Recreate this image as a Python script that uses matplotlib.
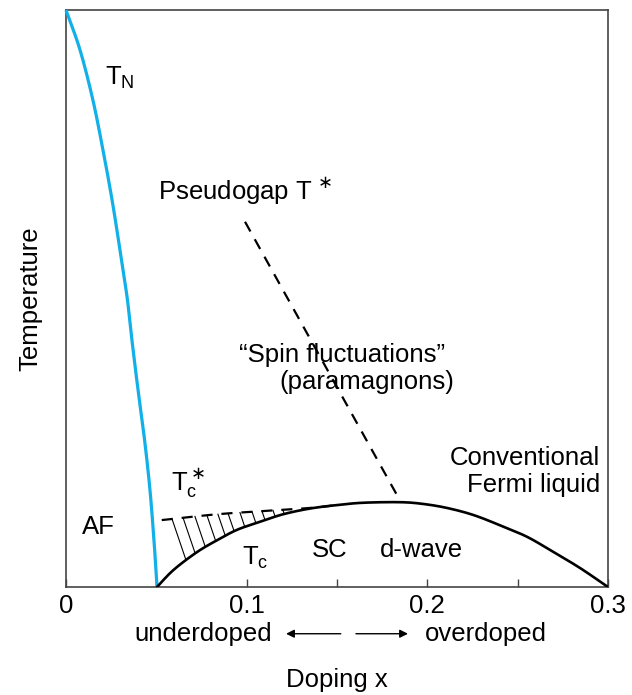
import numpy as np
import matplotlib
matplotlib.use("Agg")
import matplotlib.pyplot as plt

plt.rcParams['font.family'] = ['Liberation Sans', 'DejaVu Sans']

# Neel temperature line (AF boundary)
tn_x = [0.0, 0.00775, 0.0149, 0.0205, 0.0255, 0.0299, 0.0338, 0.0365, 0.0399, 0.0435, 0.0465, 0.0487, 0.0504]
tn_t = [1.0, 0.931, 0.844, 0.757, 0.671, 0.584, 0.503, 0.428, 0.341, 0.255, 0.168, 0.081, 0.0]

# superconducting dome Tc
tc_x = [0.0504, 0.0576, 0.0648, 0.0742, 0.0836, 0.0946, 0.1074, 0.1201, 0.1351, 0.1500, 0.1644,
        0.1849, 0.1976, 0.2109, 0.2253, 0.2402, 0.2552, 0.2696, 0.2845, 0.3]
tc_t = [0.0, 0.024, 0.043, 0.064, 0.081, 0.099, 0.113, 0.126, 0.136, 0.142, 0.146,
        0.147, 0.144, 0.137, 0.125, 0.107, 0.087, 0.061, 0.033, 0.0]

# Tc* (dashed, fluctuation region)
tcs_x = [0.053, 0.0836, 0.111, 0.135, 0.150]
tcs_t = [0.116, 0.126, 0.132, 0.137, 0.142]

# pseudogap T* (dashed)
pg_x = [0.0991, 0.1854]
pg_t = [0.633, 0.147]

# hatch line tops
hatch_x = [0.0587, 0.0648, 0.0714, 0.0780, 0.0841, 0.0897, 0.0963, 0.1030, 0.1085, 0.1146, 0.1200]

blue = '#12b0e8'


def smooth(px, py, n=20):
    # catmull-rom through the read points
    p = np.column_stack([px, py])
    p = np.vstack([2 * p[0] - p[1], p, 2 * p[-1] - p[-2]])
    out = []
    t = np.linspace(0, 1, n, endpoint=False)[:, None]
    for i in range(1, len(p) - 2):
        p0, p1, p2, p3 = p[i - 1], p[i], p[i + 1], p[i + 2]
        seg = 0.5 * ((2 * p1) + (-p0 + p2) * t + (2 * p0 - 5 * p1 + 4 * p2 - p3) * t ** 2
                     + (-p0 + 3 * p1 - 3 * p2 + p3) * t ** 3)
        out.append(seg)
    out.append(p[-2][None, :])
    out = np.vstack(out)
    return out[:, 0], out[:, 1]


fig = plt.figure(figsize=(6.32, 6.95), dpi=100)
ax = fig.add_axes([0.1044, 0.1554, 0.8576, 0.8302])

sx, sy = smooth(tn_x, tn_t)
ax.plot(sx, sy, color=blue, lw=2.3, solid_capstyle='butt', clip_on=False, zorder=4)
cx, cy = smooth(tcs_x, tcs_t)
ax.plot(cx, cy, color='black', lw=1.6, dashes=(5, 4), zorder=3)
dx, dy = smooth(tc_x, tc_t)
ax.plot(dx, dy, color='black', lw=1.9, zorder=5)
ax.plot(pg_x, pg_t, color='black', lw=1.6, dashes=(5, 4), zorder=3)

# hatching between Tc* and Tc, slanted lines
slope = 0.1086
xs = np.linspace(0.05, 0.2, 3000)
for hx in hatch_x:
    top = np.interp(hx, cx, cy)
    line_x = hx + slope * (top - np.interp(xs, dx, dy))
    bx = xs[np.argmin(np.abs(line_x - xs))]
    bt = np.interp(bx, dx, dy)
    ax.plot([hx, bx], [top, bt], color='black', lw=0.8, zorder=2)

fs = 18.5
ax.text(0.030, 0.882, r'T$_\mathregular{N}$', fontsize=fs, ha='center', va='center')
ax.text(0.051, 0.685, r'Pseudogap T$^{\,\ast}$', fontsize=fs, ha='left', va='center')
ax.text(0.1528, 0.402, '\u201cSpin fluctuations\u201d', fontsize=fs, ha='center', va='center')
ax.text(0.1666, 0.355, '(paramagnons)', fontsize=fs, ha='center', va='center')
ax.text(0.2955, 0.20, 'Conventional\nFermi liquid', fontsize=fs, ha='right', va='center',
        multialignment='right', linespacing=1.2)
ax.text(0.0675, 0.18, r'T$_\mathregular{c}^\ast$', fontsize=fs, ha='center', va='center')
ax.text(0.0177, 0.104, 'AF', fontsize=fs, ha='center', va='center')
ax.text(0.1046, 0.05, r'T$_\mathregular{c}$', fontsize=fs, ha='center', va='center')
ax.text(0.146, 0.064, 'SC', fontsize=fs, ha='center', va='center')
ax.text(0.197, 0.064, 'd-wave', fontsize=fs, ha='center', va='center')

tr = ax.get_xaxis_transform()
ax.text(0.0758, -0.082, 'underdoped', fontsize=fs, ha='center', va='center', transform=tr)
ax.text(0.2325, -0.082, 'overdoped', fontsize=fs, ha='center', va='center', transform=tr)
ax.annotate('', xy=(0.1218, -0.081), xytext=(0.1521, -0.081), xycoords=tr, textcoords=tr,
            arrowprops=dict(arrowstyle='-|>', color='black', lw=1.0, mutation_scale=12,
                            shrinkA=0, shrinkB=0))
ax.annotate('', xy=(0.1893, -0.081), xytext=(0.1605, -0.081), xycoords=tr, textcoords=tr,
            arrowprops=dict(arrowstyle='-|>', color='black', lw=1.0, mutation_scale=12,
                            shrinkA=0, shrinkB=0))

ax.set_xlim(0, 0.3)
ax.set_ylim(0, 1)
ax.set_xticks([0, 0.1, 0.2, 0.3])
ax.set_xticklabels(['0', '0.1', '0.2', '0.3'])
ax.set_xticks([0.05, 0.15, 0.25], minor=True)
ax.tick_params(axis='x', which='both', direction='in', length=6, width=1, color='#444444',
               labelsize=fs, pad=5)
ax.set_yticks([])
for s in ax.spines.values():
    s.set_color('#444444')
    s.set_linewidth(1.2)

ax.set_xlabel('Doping x', fontsize=fs, labelpad=36)
ax.set_ylabel('Temperature', fontsize=fs, labelpad=17)

fig.savefig('out.png', dpi=100)
